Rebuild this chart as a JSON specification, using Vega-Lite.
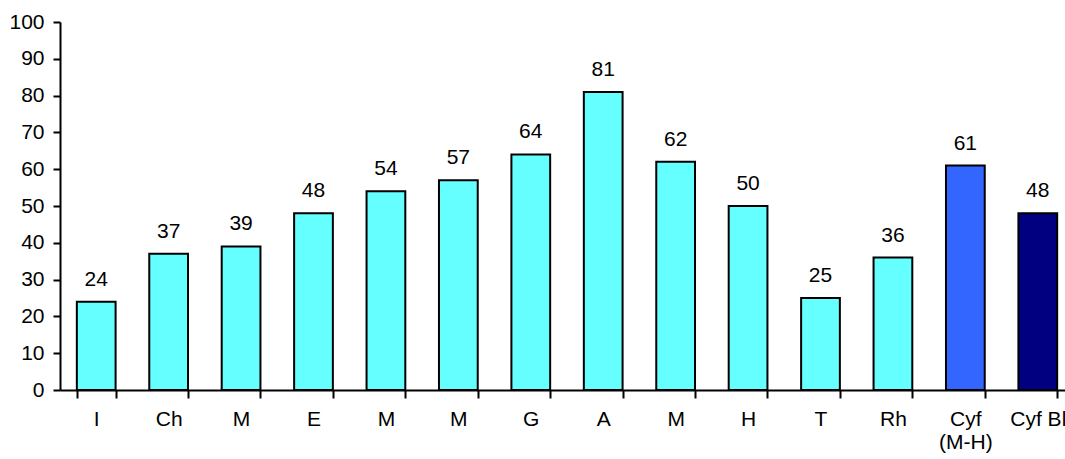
{
  "$schema": "https://vega.github.io/schema/vega-lite/v6.json",
  "width": 1014,
  "height": 368,
  "autosize": {"type": "none"},
  "padding": {"left": 60, "top": 22, "right": 0, "bottom": 69},
  "background": "white",
  "config": {"view": {"stroke": null}, "font": "Liberation Sans"},
  "data": {"values": [
    {"cat": "I", "value": 24, "group": "a"},
    {"cat": "Ch", "value": 37, "group": "a"},
    {"cat": "M#1", "value": 39, "group": "a"},
    {"cat": "E", "value": 48, "group": "a"},
    {"cat": "M#2", "value": 54, "group": "a"},
    {"cat": "M#3", "value": 57, "group": "a"},
    {"cat": "G", "value": 64, "group": "a"},
    {"cat": "A", "value": 81, "group": "a"},
    {"cat": "M#4", "value": 62, "group": "a"},
    {"cat": "H", "value": 50, "group": "a"},
    {"cat": "T", "value": 25, "group": "a"},
    {"cat": "Rh", "value": 36, "group": "a"},
    {"cat": "Cyf (M-H)", "value": 61, "group": "b"},
    {"cat": "Cyf Bl", "value": 48, "group": "c"}
  ]},
  "encoding": {
    "x": {
      "field": "cat", "type": "nominal", "sort": null,
      "scale": {"paddingInner": 0.465, "paddingOuter": 0.2325},
      "axis": {
        "title": null, "labelAngle": 0,
        "labelExpr": "!isString(datum.value) ? '' : (datum.value == 'Cyf (M-H)' ? ['Cyf', '(M-H)'] : (indexof(datum.value, '#') >= 0 ? 'M' : datum.value))",
        "labelFontSize": 21, "labelColor": "black", "labelPadding": 10,
        "labelLineHeight": 23,
        "domainColor": "black", "domainWidth": 2,
        "tickColor": "black", "tickWidth": 2, "tickSize": 8,
        "tickBand": "extent"
      }
    },
    "y": {
      "field": "value", "type": "quantitative",
      "scale": {"domain": [0, 100], "nice": false},
      "axis": {
        "title": null, "values": [0,10,20,30,40,50,60,70,80,90,100],
        "grid": false, "labelFontSize": 21, "labelColor": "black",
        "labelPadding": 9,
        "domainColor": "black", "domainWidth": 2,
        "tickColor": "black", "tickWidth": 2, "tickSize": 7
      }
    }
  },
  "layer": [
    {
      "mark": {"type": "bar", "stroke": "black", "strokeWidth": 2},
      "encoding": {
        "color": {
          "field": "group", "type": "nominal", "legend": null,
          "scale": {"domain": ["a", "b", "c"], "range": ["#66FFFF", "#3366FF", "#000080"]}
        }
      }
    },
    {
      "mark": {"type": "text", "baseline": "alphabetic", "dy": -16, "fontSize": 21, "color": "black"},
      "encoding": {"text": {"field": "value", "type": "quantitative"}}
    }
  ]
}
